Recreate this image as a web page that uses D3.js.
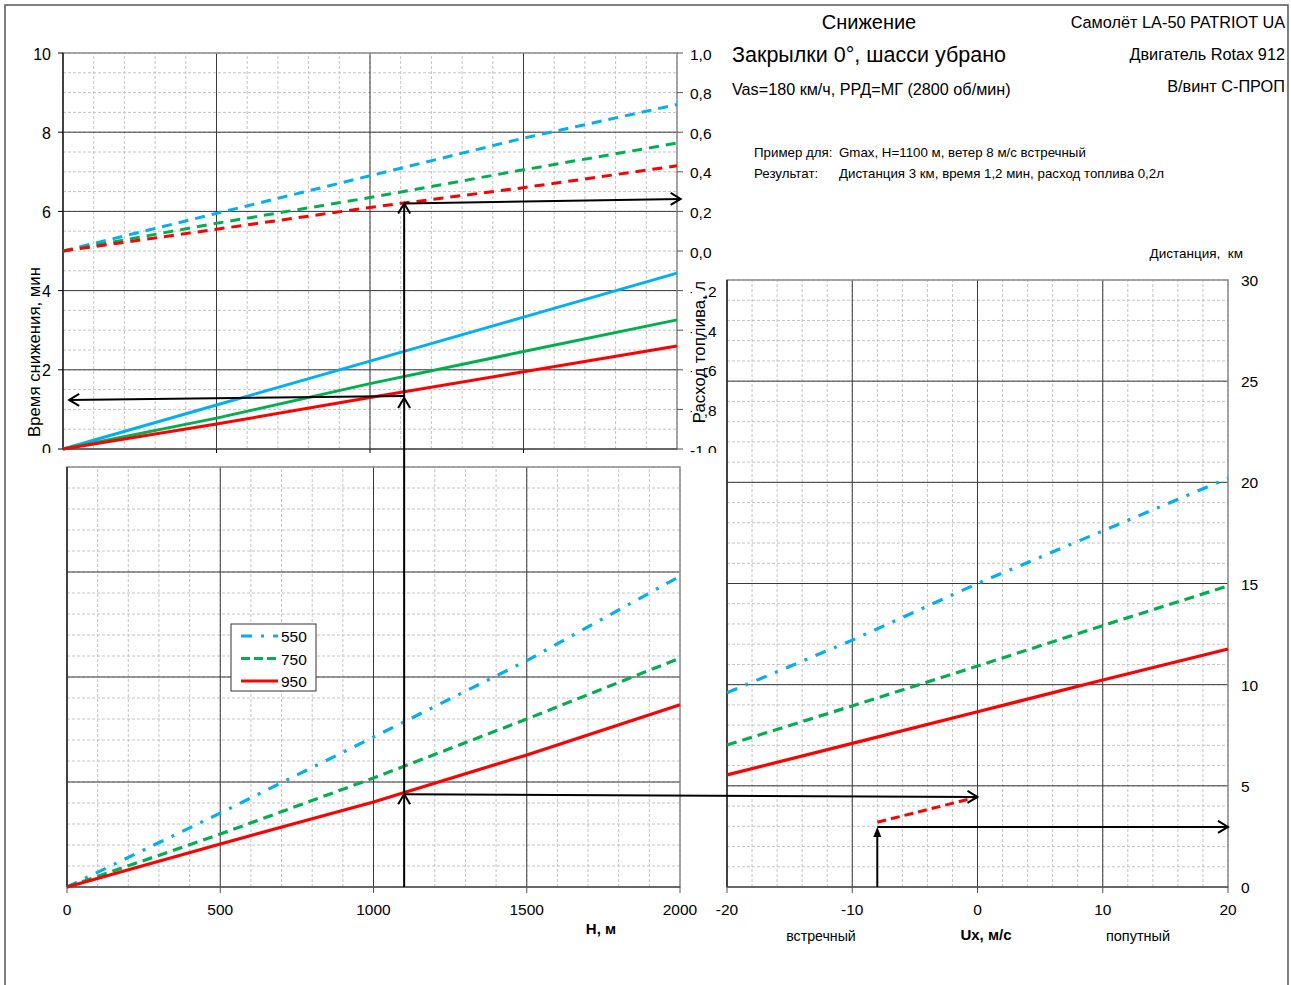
<!DOCTYPE html>
<html>
<head>
<meta charset="utf-8">
<script src="https://cdn.jsdelivr.net/npm/d3@7"></script>
<style>
  body { margin: 0; background: #fff; }
  text { font-family: "Liberation Sans", Arial, sans-serif; fill: #000; }
</style>
</head>
<body>
<div id="chart"></div>
<script>
// heights, m
var heights = [0, 500, 1000, 1500, 2000];
var seriesNames = ['550', '750', '950'];
var seriesColors = ['#00B0F0', '#00B050', '#FF0000'];

// descent time, min
var time550 = [0, 1.11, 2.22, 3.33, 4.44];
var time750 = [0, 0.78, 1.65, 2.46, 3.26];
var time950 = [0, 0.63, 1.30, 1.95, 2.60];

// fuel, l
var fuel550 = [0, 0.19, 0.38, 0.57, 0.74];
var fuel750 = [0, 0.14, 0.27, 0.41, 0.545];
var fuel950 = [0, 0.11, 0.22, 0.32, 0.43];

// distance without wind, km
var dist550 = [0, 3.52, 7.14, 10.78, 14.8];
var dist750 = [0, 2.52, 5.19, 8.0, 10.9];
var dist950 = [0, 2.05, 4.05, 6.29, 8.68];

// wind, m/s  -> distance, km
var winds = [-20, -10, 0, 10, 20];
var wind550 = [9.6, 12.2, 15.0, 17.6, 20.2];
var wind750 = [7.02, 8.95, 10.92, 12.92, 14.88];
var wind950 = [5.54, 7.1, 8.66, 10.23, 11.76];

// example
var exH = 1100;
var exTime = [1.34, 1.24];
var exFuel = [0.24, 0.263];
var exDist = 4.42;
var exWind = -8;
var exSeg = [[-8, 3.2], [0, 4.45]];
var exResult = 2.97;

var timeTicks = [0, 2, 4, 6, 8, 10];
var fuelTicks = [1, 0.8, 0.6, 0.4, 0.2, 0, -0.2, -0.4, -0.6, -0.8, -1];
var hTicks = [0, 500, 1000, 1500, 2000];
var windTicks = [-20, -10, 0, 10, 20];
var distTicks = [0, 5, 10, 15, 20, 25, 30];

var W = 1291, H = 985;
var svg = d3.select('#chart').append('svg')
  .attr('width', W).attr('height', H);

svg.append('rect').attr('x', 5).attr('y', 5).attr('width', 1283).attr('height', 990)
  .attr('fill', '#fff').attr('stroke', '#555').attr('stroke-width', 1.5);

// scales
var xTop = d3.scaleLinear().domain([0, 2000]).range([63, 677]);
var yTime = d3.scaleLinear().domain([0, 10]).range([449, 53]);
var yFuel = d3.scaleLinear().domain([-1, 1]).range([449, 53]);
var xBot = d3.scaleLinear().domain([0, 2000]).range([67, 680]);
var yBot = d3.scaleLinear().domain([0, 20]).range([887, 467]);
var xWind = d3.scaleLinear().domain([-20, 20]).range([727, 1228]);
var yDist = d3.scaleLinear().domain([0, 30]).range([887, 280]);

function grid(g, x, y, xMinor, xMajor, yMinor, yMajor) {
  var x0 = x.range()[0], x1 = x.range()[1];
  var y0 = y.range()[0], y1 = y.range()[1];
  g.selectAll(null).data(xMinor).enter().append('line')
    .attr('x1', function(d) { return x(d); }).attr('x2', function(d) { return x(d); })
    .attr('y1', y0).attr('y2', y1)
    .attr('stroke', '#c4c4c4').attr('stroke-dasharray', '3,2');
  g.selectAll(null).data(yMinor).enter().append('line')
    .attr('y1', function(d) { return y(d); }).attr('y2', function(d) { return y(d); })
    .attr('x1', x0).attr('x2', x1)
    .attr('stroke', '#c4c4c4').attr('stroke-dasharray', '3,2');
  g.selectAll(null).data(xMajor).enter().append('line')
    .attr('x1', function(d) { return x(d); }).attr('x2', function(d) { return x(d); })
    .attr('y1', y0).attr('y2', y1)
    .attr('stroke', '#3a3a3a');
  g.selectAll(null).data(yMajor).enter().append('line')
    .attr('y1', function(d) { return y(d); }).attr('y2', function(d) { return y(d); })
    .attr('x1', x0).attr('x2', x1)
    .attr('stroke', '#3a3a3a');
  g.append('rect').attr('x', x0).attr('y', y1).attr('width', x1 - x0).attr('height', y0 - y1)
    .attr('fill', 'none').attr('stroke', '#8a8a8a').attr('stroke-width', 1.5);
  g.append('line').attr('x1', x0).attr('x2', x0).attr('y1', y0).attr('y2', y1)
    .attr('stroke', '#000').attr('stroke-width', 1.2);
  g.append('line').attr('x1', x0).attr('x2', x1).attr('y1', y0).attr('y2', y0)
    .attr('stroke', '#555').attr('stroke-width', 1.5);
}

function pairs(xs, ys) {
  return xs.map(function(v, i) { return [v, ys[i]]; });
}

var dashes = ['11,9,3,9', '10,6', null];

// ---------- top chart ----------
var topChart = svg.append('g');
grid(topChart, xTop, yTime, d3.range(0, 2001, 100), [500, 1000, 1500], d3.range(0, 10.01, 0.5), [2, 4, 6, 8]);

topChart.selectAll(null).data(timeTicks).enter().append('line')
  .attr('x1', 58).attr('x2', 63)
  .attr('y1', function(d) { return yTime(d); }).attr('y2', function(d) { return yTime(d); })
  .attr('stroke', '#000');
topChart.selectAll(null).data(timeTicks).enter().append('text')
  .attr('x', 51).attr('y', function(d) { return yTime(d) + 6.5; })
  .attr('text-anchor', 'end').attr('font-size', 16)
  .text(function(d) { return d; });

topChart.selectAll(null).data(fuelTicks).enter().append('line')
  .attr('x1', 677).attr('x2', 683)
  .attr('y1', function(d) { return yFuel(d); }).attr('y2', function(d) { return yFuel(d); })
  .attr('stroke', '#555');
topChart.selectAll(null).data(fuelTicks).enter().append('text')
  .attr('x', 690).attr('y', function(d) { return yFuel(d) + 6.5; })
  .attr('font-size', 15.5)
  .text(function(d) { return d.toFixed(1).replace('.', ','); });

topChart.selectAll(null).data(hTicks.slice(1, 4)).enter().append('line')
  .attr('x1', function(d) { return xTop(d); }).attr('x2', function(d) { return xTop(d); })
  .attr('y1', 449).attr('y2', 454).attr('stroke', '#000');

var timeSeries = [time550, time750, time950];
var fuelSeries = [fuel550, fuel750, fuel950];
var lineTime = d3.line().x(function(d) { return xTop(d[0]); }).y(function(d) { return yTime(d[1]); });
var lineFuel = d3.line().x(function(d) { return xTop(d[0]); }).y(function(d) { return yFuel(d[1]); });

fuelSeries.forEach(function(s, i) {
  topChart.append('path').attr('d', lineFuel(pairs(heights, s)))
    .attr('fill', 'none').attr('stroke', seriesColors[i]).attr('stroke-width', 3)
    .attr('stroke-dasharray', '10,7');
});
timeSeries.forEach(function(s, i) {
  topChart.append('path').attr('d', lineTime(pairs(heights, s)))
    .attr('fill', 'none').attr('stroke', seriesColors[i]).attr('stroke-width', 3);
});

// axis titles
svg.append('text').attr('transform', 'translate(40,352) rotate(-90)')
  .attr('text-anchor', 'middle').attr('font-size', 16.8).text('Время снижения, мин');
svg.append('rect').attr('x', 692).attr('y', 281).attr('width', 13).attr('height', 144).attr('fill', '#fff');
svg.append('text').attr('transform', 'translate(705,352) rotate(-90)')
  .attr('text-anchor', 'middle').attr('font-size', 16.8).text('Расход топлива, л');

// white chart area for the lower chart (clips labels like the original)
svg.append('rect').attr('x', 20).attr('y', 453).attr('width', 700).attr('height', 527).attr('fill', '#fff');

// ---------- bottom-left chart ----------
var botChart = svg.append('g');
grid(botChart, xBot, yBot, d3.range(0, 2001, 100), [500, 1000, 1500], d3.range(0, 20.01, 1), [5, 10, 15]);
botChart.selectAll(null).data(hTicks).enter().append('line')
  .attr('x1', function(d) { return xBot(d); }).attr('x2', function(d) { return xBot(d); })
  .attr('y1', 887).attr('y2', 893).attr('stroke', '#555');
botChart.selectAll(null).data(hTicks).enter().append('text')
  .attr('x', function(d) { return xBot(d); }).attr('y', 915)
  .attr('text-anchor', 'middle').attr('font-size', 15.5)
  .text(function(d) { return d; });
botChart.append('text').attr('x', 601).attr('y', 934).attr('text-anchor', 'middle')
  .attr('font-size', 15).attr('font-weight', 'bold').text('H, м');

var distSeries = [dist550, dist750, dist950];
var lineBot = d3.line().x(function(d) { return xBot(d[0]); }).y(function(d) { return yBot(d[1]); });
distSeries.forEach(function(s, i) {
  botChart.append('path').attr('d', lineBot(pairs(heights, s)))
    .attr('fill', 'none').attr('stroke', seriesColors[i]).attr('stroke-width', 3.2)
    .attr('stroke-dasharray', dashes[i]);
});

// legend
var leg = botChart.append('g');
leg.append('rect').attr('x', 231).attr('y', 624).attr('width', 85).attr('height', 67)
  .attr('fill', '#fff').attr('stroke', '#333');
seriesNames.forEach(function(n, i) {
  var yy = 636 + i * 22.5;
  leg.append('line').attr('x1', 241).attr('x2', 278).attr('y1', yy).attr('y2', yy)
    .attr('stroke', seriesColors[i]).attr('stroke-width', 3.2)
    .attr('stroke-dasharray', i === 0 ? '11,9,3,9' : (i === 1 ? '9,4' : null));
  leg.append('text').attr('x', 281).attr('y', yy + 6).attr('font-size', 15.5).text(n);
});

// ---------- right chart ----------
var windChart = svg.append('g');
grid(windChart, xWind, yDist, d3.range(-20, 20.01, 2), [-10, 0, 10], d3.range(0, 30.01, 1), [5, 10, 15, 20, 25]);
windChart.selectAll(null).data(windTicks).enter().append('line')
  .attr('x1', function(d) { return xWind(d); }).attr('x2', function(d) { return xWind(d); })
  .attr('y1', 887).attr('y2', 893).attr('stroke', '#555');
windChart.selectAll(null).data(windTicks).enter().append('text')
  .attr('x', function(d) { return xWind(d); }).attr('y', 915)
  .attr('text-anchor', 'middle').attr('font-size', 15.5)
  .text(function(d) { return d; });
windChart.selectAll(null).data(distTicks).enter().append('text')
  .attr('x', 1241).attr('y', function(d) { return yDist(d) + 6; })
  .attr('font-size', 15.5).text(function(d) { return d; });
windChart.append('text').attr('x', 986).attr('y', 940).attr('text-anchor', 'middle')
  .attr('font-size', 15).attr('font-weight', 'bold').text('Ux, м/с');
windChart.append('text').attr('x', 821).attr('y', 941).attr('text-anchor', 'middle')
  .attr('font-size', 14.2).text('встречный');
windChart.append('text').attr('x', 1138).attr('y', 941).attr('text-anchor', 'middle')
  .attr('font-size', 14.5).text('попутный');
windChart.append('text').attr('x', 1243).attr('y', 258).attr('text-anchor', 'end')
  .attr('font-size', 13.5).text('Дистанция,\u00A0 км');

var windSeries = [wind550, wind750, wind950];
var lineWind = d3.line().x(function(d) { return xWind(d[0]); }).y(function(d) { return yDist(d[1]); });
windSeries.forEach(function(s, i) {
  windChart.append('path').attr('d', lineWind(pairs(winds, s)))
    .attr('fill', 'none').attr('stroke', seriesColors[i]).attr('stroke-width', 3.2)
    .attr('stroke-dasharray', dashes[i]);
});
windChart.append('path').attr('d', lineWind(exSeg))
  .attr('fill', 'none').attr('stroke', '#FF0000').attr('stroke-width', 3)
  .attr('stroke-dasharray', '9,5');

// ---------- example arrows ----------
var arr = svg.append('g').attr('fill', 'none').attr('stroke', '#000').attr('stroke-width', 2);
var ax = xBot(exH);
var yTopFuel = yFuel(exFuel[0]);
arr.append('line').attr('x1', ax).attr('x2', ax).attr('y1', 887).attr('y2', yTopFuel);

function chevUp(x, y) {
  arr.append('polyline').attr('points', [[x - 6, y + 10], [x, y], [x + 6, y + 10]].join(' '));
}
function chevRight(x, y) {
  arr.append('polyline').attr('points', [[x - 10, y - 6], [x, y], [x - 10, y + 6]].join(' '));
}
function chevLeft(x, y) {
  arr.append('polyline').attr('points', [[x + 10, y - 6], [x, y], [x + 10, y + 6]].join(' '));
}

chevUp(ax, yTopFuel);
chevUp(ax, yTime(exTime[0]) + 2);
chevUp(ax, yBot(exDist));

// fuel arrow to right axis
arr.append('line').attr('x1', ax).attr('y1', yTopFuel).attr('x2', xTop(2012)).attr('y2', yFuel(exFuel[1]));
chevRight(xTop(2012), yFuel(exFuel[1]));
// time arrow to left axis
arr.append('line').attr('x1', ax).attr('y1', yTime(exTime[0])).attr('x2', xTop(20)).attr('y2', yTime(exTime[1]));
chevLeft(xTop(20), yTime(exTime[1]));
// distance arrow to right chart
arr.append('line').attr('x1', ax).attr('y1', yBot(exDist)).attr('x2', xWind(0)).attr('y2', yDist(exSeg[1][1]));
chevRight(xWind(0), yDist(exSeg[1][1]));
// wind arrow up and result arrow
var wx = xWind(exWind);
arr.append('line').attr('x1', wx).attr('x2', wx).attr('y1', 887).attr('y2', yDist(exResult) + 6);
svg.append('path').attr('d', 'M' + (wx - 4) + ',' + (yDist(exResult) + 10) + 'L' + wx + ',' + yDist(exResult) + 'L' + (wx + 4) + ',' + (yDist(exResult) + 10) + 'Z')
  .attr('fill', '#000');
arr.append('line').attr('x1', wx).attr('y1', yDist(exResult)).attr('x2', xWind(20)).attr('y2', yDist(exResult));
chevRight(xWind(20), yDist(exResult));

// ---------- texts ----------
svg.append('text').attr('x', 869).attr('y', 29).attr('text-anchor', 'middle')
  .attr('font-size', 20).text('Снижение');
svg.append('text').attr('x', 869).attr('y', 62).attr('text-anchor', 'middle')
  .attr('font-size', 21.5).text('Закрылки 0°, шасси убрано');
svg.append('text').attr('x', 732).attr('y', 95)
  .attr('font-size', 16.2).text('Vas=180 км/ч, РРД=МГ (2800 об/мин)');
var rightTexts = ['Самолёт LA-50 PATRIOT UA', 'Двигатель Rotax 912', 'В/винт С-ПРОП'];
svg.selectAll(null).data(rightTexts).enter().append('text')
  .attr('x', 1285).attr('y', function(d, i) { return 28 + i * 32; })
  .attr('text-anchor', 'end').attr('font-size', 16.3)
  .text(function(d) { return d; });
svg.append('text').attr('x', 754).attr('y', 157).attr('font-size', 13.3).text('Пример для:');
svg.append('text').attr('x', 839).attr('y', 157).attr('font-size', 13.3).text('Gmax, H=1100 м, ветер 8 м/с встречный');
svg.append('text').attr('x', 754).attr('y', 178).attr('font-size', 13.3).text('Результат:');
svg.append('text').attr('x', 839).attr('y', 178).attr('font-size', 13.3).text('Дистанция 3 км, время 1,2 мин, расход топлива 0,2л');
</script>
</body>
</html>
